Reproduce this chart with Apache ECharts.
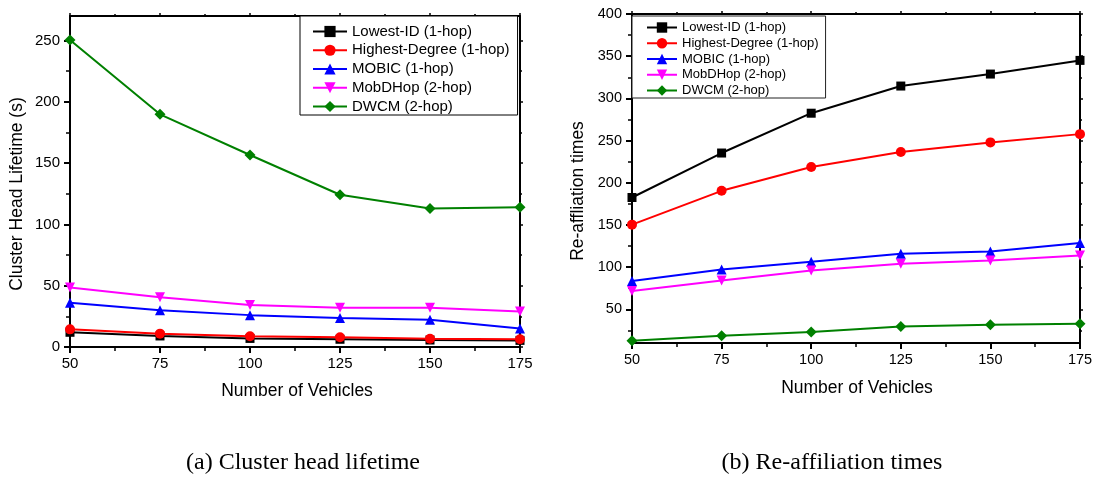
<!DOCTYPE html>
<html>
<head>
<meta charset="utf-8">
<script src="https://cdn.jsdelivr.net/npm/echarts@6/dist/echarts.min.js"></script>
<style>
html,body{margin:0;padding:0;background:#fff;}
#chart{width:1095px;height:478px;}
</style>
</head>
<body>
<div id="chart"></div>
<script>
// ---- data ----
const xValues = [50, 75, 100, 125, 150, 175];
const seriesNames = ['Lowest-ID (1-hop)', 'Highest-Degree (1-hop)', 'MOBIC (1-hop)', 'MobDHop (2-hop)', 'DWCM (2-hop)'];

const lifetimeLowestID = [12, 9, 7, 6.3, 5.7, 5.4];
const lifetimeHighestDegree = [14.4, 10.9, 8.7, 7.9, 6.8, 6.3];
const lifetimeMOBIC = [36, 30, 26, 23.7, 22.3, 15];
const lifetimeMobDHop = [48.5, 40.6, 34.3, 32.1, 32, 29];
const lifetimeDWCM = [250.5, 189.8, 156.6, 124.2, 113, 114];

const reaffLowestID = [182.5, 235.2, 282.4, 314.6, 328.8, 345];
const reaffHighestDegree = [150.3, 190.4, 218.7, 236.4, 247.8, 257.6];
const reaffMOBIC = [83.4, 97.2, 106.2, 115.7, 118.4, 128.6];
const reaffMobDHop = [71.6, 84.2, 96, 103.9, 107.8, 113.7];
const reaffDWCM = [12.6, 18.5, 22.9, 29.6, 31.5, 32.7];

// ---- ticks ----
const xTicks = [50, 75, 100, 125, 150, 175];
const xMinorTicks = [62.5, 87.5, 112.5, 137.5, 162.5];
const lifetimeYTicks = [0, 50, 100, 150, 200, 250];
const lifetimeYMinorTicks = [25, 75, 125, 175, 225];
const reaffYTicks = [50, 100, 150, 200, 250, 300, 350, 400];
const reaffYMinorTicks = [25, 75, 125, 175, 225, 275, 325, 375];

const xMin = 50, xMax = 175;
const lifetimeYMin = 0, lifetimeYMax = 270;
const reaffYMin = 10, reaffYMax = 400;

// ---- texts ----
const xTitle = 'Number of Vehicles';
const lifetimeYTitle = 'Cluster Head Lifetime (s)';
const reaffYTitle = 'Re-affliation times';
const captionA = '(a) Cluster head lifetime';
const captionB = '(b) Re-affiliation times';

const SANS = '"Liberation Sans", Arial, sans-serif';
const SERIF = '"Liberation Serif", "Times New Roman", serif';
const colors = ['#000000', '#ff0000', '#0000ff', '#ff00ff', '#008000'];
const symbols = ['rect', 'circle', 'triangle', 'triangle', 'diamond'];
const symbolRot = [0, 0, 0, 180, 0];
const symbolSizes = [9, 10, 10, 10, 11];

function axisSet(dim, gridIndex, min, max, major, minor, labelSize) {
  const isX = dim === 'x';
  const mainPos = isX ? 'bottom' : 'left';
  const framePos = isX ? 'top' : 'right';
  const base = { gridIndex, type: 'value', min, max, splitLine: { show: false }, splitArea: { show: false } };
  const line = { show: true, onZero: false, lineStyle: { color: '#000', width: 2 } };
  return [
    Object.assign({}, base, {
      position: mainPos,
      axisLine: line,
      axisTick: { show: true, customValues: major, length: 6, lineStyle: { color: '#000', width: 2 } },
      axisLabel: { show: true, customValues: major, margin: isX ? 9 : 10, fontSize: labelSize, color: '#000', fontFamily: SANS }
    }),
    Object.assign({}, base, {
      position: mainPos,
      axisLine: { show: false, onZero: false },
      axisTick: { show: true, customValues: minor, length: 4, lineStyle: { color: '#000', width: 1.5 } },
      axisLabel: { show: false }
    }),
    Object.assign({}, base, {
      position: framePos,
      axisLine: line,
      axisTick: { show: true, customValues: major, length: 3, lineStyle: { color: '#000', width: 1.5 } },
      axisLabel: { show: false }
    }),
    Object.assign({}, base, {
      position: framePos,
      axisLine: { show: false, onZero: false },
      axisTick: { show: true, customValues: minor, length: 2, lineStyle: { color: '#000', width: 1.5 } },
      axisLabel: { show: false }
    })
  ];
}

function makeSeries(gridIdx, arrays) {
  return arrays.map((vals, i) => ({
    name: seriesNames[i],
    type: 'line',
    xAxisIndex: gridIdx * 4,
    yAxisIndex: gridIdx * 4,
    data: xValues.map((x, j) => [x, vals[j]]),
    symbol: symbols[i],
    symbolRotate: symbolRot[i],
    symbolSize: symbolSizes[i],
    showAllSymbol: true,
    clip: false,
    lineStyle: { color: colors[i], width: 2 },
    itemStyle: { color: colors[i] },
    emphasis: { disabled: true },
    animation: false,
    z: 3 + i
  }));
}

const chart = echarts.init(document.getElementById('chart'), null, { renderer: 'canvas' });

const option = {
  backgroundColor: '#fff',
  animation: false,
  grid: [
    { left: 70, top: 16, width: 450, height: 331, containLabel: false, outerBoundsMode: 'none' },
    { left: 632, top: 14, width: 448, height: 329, containLabel: false, outerBoundsMode: 'none' }
  ],
  xAxis: [].concat(
    axisSet('x', 0, xMin, xMax, xTicks, xMinorTicks, 15),
    axisSet('x', 1, xMin, xMax, xTicks, xMinorTicks, 14.5)
  ),
  yAxis: [].concat(
    axisSet('y', 0, lifetimeYMin, lifetimeYMax, lifetimeYTicks, lifetimeYMinorTicks, 15),
    axisSet('y', 1, reaffYMin, reaffYMax, reaffYTicks, reaffYMinorTicks, 14.5)
  ),
  legend: [
    {
      data: seriesNames, orient: 'vertical', left: 300, top: 16,
      itemWidth: 34, itemHeight: 14, itemGap: 3.75,
      padding: [8, 8, 1, 12],
      borderColor: '#000', borderWidth: 1, backgroundColor: '#fff',
      selectedMode: false,
      textStyle: { fontFamily: SANS, fontSize: 15, lineHeight: 15, color: '#000' }
    },
    {
      data: seriesNames, orient: 'vertical', left: 632, top: 16,
      itemWidth: 30, itemHeight: 13, itemGap: 2.75,
      padding: [5, 7, 1, 14],
      borderColor: '#222', borderWidth: 1, backgroundColor: '#fff',
      selectedMode: false,
      textStyle: { fontFamily: SANS, fontSize: 13, lineHeight: 13, color: '#000' }
    }
  ],
  graphic: [
    { type: 'text', x: 297, y: 391, style: { text: xTitle, font: '17.5px ' + SANS, fill: '#000', textAlign: 'center', textVerticalAlign: 'middle' } },
    { type: 'text', x: 857, y: 388, style: { text: xTitle, font: '17.5px ' + SANS, fill: '#000', textAlign: 'center', textVerticalAlign: 'middle' } },
    { type: 'text', x: 17, y: 194, rotation: Math.PI / 2, style: { text: lifetimeYTitle, font: '17.5px ' + SANS, fill: '#000', textAlign: 'center', textVerticalAlign: 'middle' } },
    { type: 'text', x: 578, y: 191, rotation: Math.PI / 2, style: { text: reaffYTitle, font: '17.5px ' + SANS, fill: '#000', textAlign: 'center', textVerticalAlign: 'middle' } },
    { type: 'text', x: 303, y: 463, style: { text: captionA, font: '24px ' + SERIF, fill: '#000', textAlign: 'center', textVerticalAlign: 'middle' } },
    { type: 'text', x: 832, y: 463, style: { text: captionB, font: '24px ' + SERIF, fill: '#000', textAlign: 'center', textVerticalAlign: 'middle' } }
  ],
  series: [].concat(
    makeSeries(0, [lifetimeLowestID, lifetimeHighestDegree, lifetimeMOBIC, lifetimeMobDHop, lifetimeDWCM]),
    makeSeries(1, [reaffLowestID, reaffHighestDegree, reaffMOBIC, reaffMobDHop, reaffDWCM])
  )
};

chart.setOption(option);
</script>
</body>
</html>
